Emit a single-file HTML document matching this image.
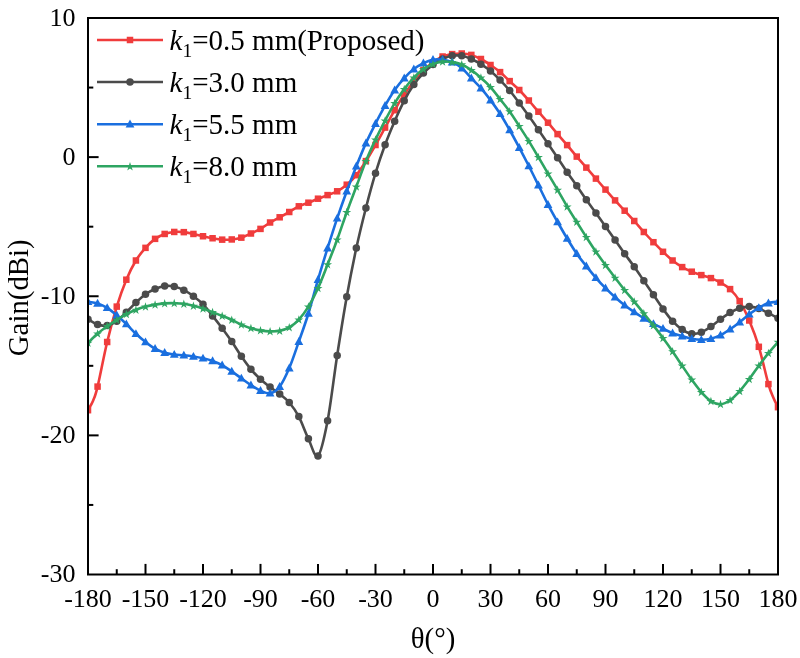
<!DOCTYPE html>
<html><head><meta charset="utf-8"><title>Gain</title>
<style>
html,body{margin:0;padding:0;background:#fff;}
body{width:800px;height:658px;overflow:hidden;}
svg{display:block;will-change:transform;}
text{font-family:"Liberation Serif",serif;fill:#000;}
</style></head><body>
<svg width="800" height="658" viewBox="0 0 800 658">
<rect width="800" height="658" fill="#fff"/>
<defs><clipPath id="c"><rect x="87" y="17" width="692" height="558.5"/></clipPath></defs>
<g clip-path="url(#c)"><path d="M88.00 410.20C88.87 408.57 91.60 404.33 93.20 400.40C94.80 396.47 95.26 396.33 97.58 386.60C99.91 376.87 103.97 355.33 107.17 342.00C110.36 328.67 113.56 316.98 116.75 306.60C119.94 296.22 123.14 287.38 126.33 279.70C129.53 272.02 132.72 265.81 135.92 260.50C139.11 255.19 142.31 251.46 145.50 247.85C148.69 244.24 151.89 241.17 155.08 238.85C158.28 236.53 161.47 235.10 164.67 233.95C167.86 232.80 171.06 232.25 174.25 231.95C177.44 231.65 180.64 231.82 183.83 232.15C187.03 232.48 190.22 233.27 193.42 233.95C196.61 234.63 199.81 235.53 203.00 236.25C206.19 236.97 209.39 237.68 212.58 238.25C215.78 238.82 218.97 239.45 222.17 239.65C225.36 239.85 228.56 239.78 231.75 239.45C234.94 239.12 238.14 238.64 241.33 237.65C244.53 236.66 247.72 234.96 250.92 233.50C254.11 232.04 257.31 230.73 260.50 228.90C263.69 227.07 266.89 224.43 270.08 222.50C273.28 220.57 276.47 219.05 279.67 217.30C282.86 215.55 286.06 213.83 289.25 212.00C292.44 210.17 295.64 207.85 298.83 206.30C302.03 204.75 305.22 203.97 308.42 202.70C311.61 201.43 314.81 199.97 318.00 198.70C321.19 197.43 324.39 196.33 327.58 195.10C330.78 193.87 333.97 193.03 337.17 191.30C340.36 189.57 343.56 187.38 346.75 184.70C349.94 182.02 353.14 179.13 356.33 175.20C359.53 171.27 362.72 166.13 365.92 161.10C369.11 156.07 372.31 150.58 375.50 145.00C378.69 139.42 381.89 133.40 385.08 127.60C388.28 121.80 391.47 115.78 394.67 110.20C397.86 104.62 401.06 98.85 404.25 94.10C407.44 89.35 410.64 85.72 413.83 81.70C417.03 77.68 420.22 73.20 423.42 70.00C426.61 66.80 429.81 64.75 433.00 62.50C436.19 60.25 439.39 57.90 442.58 56.50C445.78 55.10 448.97 54.60 452.17 54.10C455.36 53.60 458.56 53.37 461.75 53.50C464.94 53.63 468.14 53.98 471.33 54.90C474.53 55.82 477.72 57.32 480.92 59.00C484.11 60.68 487.31 62.82 490.50 65.00C493.69 67.18 496.89 69.42 500.08 72.10C503.28 74.78 506.47 78.12 509.67 81.10C512.86 84.08 516.06 86.77 519.25 90.00C522.44 93.23 525.64 96.88 528.83 100.50C532.03 104.12 535.22 108.00 538.42 111.70C541.61 115.40 544.81 118.97 548.00 122.70C551.19 126.43 554.39 130.37 557.58 134.10C560.78 137.83 563.97 141.35 567.17 145.10C570.36 148.85 573.56 152.85 576.75 156.60C579.94 160.35 583.14 163.93 586.33 167.60C589.53 171.27 592.72 174.93 595.92 178.60C599.11 182.27 602.31 185.97 605.50 189.60C608.69 193.23 611.89 196.88 615.08 200.40C618.28 203.92 621.47 207.27 624.67 210.70C627.86 214.13 631.06 217.45 634.25 221.00C637.44 224.55 640.64 228.47 643.83 232.00C647.03 235.53 650.22 238.90 653.42 242.20C656.61 245.50 659.81 248.75 663.00 251.80C666.19 254.85 669.39 257.95 672.58 260.50C675.78 263.05 678.97 265.23 682.17 267.10C685.36 268.97 688.56 270.37 691.75 271.70C694.94 273.03 698.14 274.03 701.33 275.10C704.53 276.17 707.72 276.87 710.92 278.10C714.11 279.33 717.31 280.67 720.50 282.50C723.69 284.33 726.89 286.00 730.08 289.10C733.28 292.20 736.47 295.87 739.67 301.10C742.86 306.33 746.06 312.88 749.25 320.50C752.44 328.12 755.64 336.20 758.83 346.80C762.03 357.40 765.99 375.60 768.42 384.10C770.84 392.60 771.80 393.95 773.40 397.80C775.00 401.65 777.23 405.63 778.00 407.20" fill="none" stroke="#f03c3c" stroke-width="2.6" stroke-linejoin="round" stroke-linecap="round"/>
<g fill="#f03c3c"><rect x="84.75" y="406.95" width="6.50" height="6.50"/><rect x="94.33" y="383.35" width="6.50" height="6.50"/><rect x="103.92" y="338.75" width="6.50" height="6.50"/><rect x="113.50" y="303.35" width="6.50" height="6.50"/><rect x="123.08" y="276.45" width="6.50" height="6.50"/><rect x="132.67" y="257.25" width="6.50" height="6.50"/><rect x="142.25" y="244.60" width="6.50" height="6.50"/><rect x="151.83" y="235.60" width="6.50" height="6.50"/><rect x="161.42" y="230.70" width="6.50" height="6.50"/><rect x="171.00" y="228.70" width="6.50" height="6.50"/><rect x="180.58" y="228.90" width="6.50" height="6.50"/><rect x="190.17" y="230.70" width="6.50" height="6.50"/><rect x="199.75" y="233.00" width="6.50" height="6.50"/><rect x="209.33" y="235.00" width="6.50" height="6.50"/><rect x="218.92" y="236.40" width="6.50" height="6.50"/><rect x="228.50" y="236.20" width="6.50" height="6.50"/><rect x="238.08" y="234.40" width="6.50" height="6.50"/><rect x="247.67" y="230.25" width="6.50" height="6.50"/><rect x="257.25" y="225.65" width="6.50" height="6.50"/><rect x="266.83" y="219.25" width="6.50" height="6.50"/><rect x="276.42" y="214.05" width="6.50" height="6.50"/><rect x="286.00" y="208.75" width="6.50" height="6.50"/><rect x="295.58" y="203.05" width="6.50" height="6.50"/><rect x="305.17" y="199.45" width="6.50" height="6.50"/><rect x="314.75" y="195.45" width="6.50" height="6.50"/><rect x="324.33" y="191.85" width="6.50" height="6.50"/><rect x="333.92" y="188.05" width="6.50" height="6.50"/><rect x="343.50" y="181.45" width="6.50" height="6.50"/><rect x="353.08" y="171.95" width="6.50" height="6.50"/><rect x="362.67" y="157.85" width="6.50" height="6.50"/><rect x="372.25" y="141.75" width="6.50" height="6.50"/><rect x="381.83" y="124.35" width="6.50" height="6.50"/><rect x="391.42" y="106.95" width="6.50" height="6.50"/><rect x="401.00" y="90.85" width="6.50" height="6.50"/><rect x="410.58" y="78.45" width="6.50" height="6.50"/><rect x="420.17" y="66.75" width="6.50" height="6.50"/><rect x="429.75" y="59.25" width="6.50" height="6.50"/><rect x="439.33" y="53.25" width="6.50" height="6.50"/><rect x="448.92" y="50.85" width="6.50" height="6.50"/><rect x="458.50" y="50.25" width="6.50" height="6.50"/><rect x="468.08" y="51.65" width="6.50" height="6.50"/><rect x="477.67" y="55.75" width="6.50" height="6.50"/><rect x="487.25" y="61.75" width="6.50" height="6.50"/><rect x="496.83" y="68.85" width="6.50" height="6.50"/><rect x="506.42" y="77.85" width="6.50" height="6.50"/><rect x="516.00" y="86.75" width="6.50" height="6.50"/><rect x="525.58" y="97.25" width="6.50" height="6.50"/><rect x="535.17" y="108.45" width="6.50" height="6.50"/><rect x="544.75" y="119.45" width="6.50" height="6.50"/><rect x="554.33" y="130.85" width="6.50" height="6.50"/><rect x="563.92" y="141.85" width="6.50" height="6.50"/><rect x="573.50" y="153.35" width="6.50" height="6.50"/><rect x="583.08" y="164.35" width="6.50" height="6.50"/><rect x="592.67" y="175.35" width="6.50" height="6.50"/><rect x="602.25" y="186.35" width="6.50" height="6.50"/><rect x="611.83" y="197.15" width="6.50" height="6.50"/><rect x="621.42" y="207.45" width="6.50" height="6.50"/><rect x="631.00" y="217.75" width="6.50" height="6.50"/><rect x="640.58" y="228.75" width="6.50" height="6.50"/><rect x="650.17" y="238.95" width="6.50" height="6.50"/><rect x="659.75" y="248.55" width="6.50" height="6.50"/><rect x="669.33" y="257.25" width="6.50" height="6.50"/><rect x="678.92" y="263.85" width="6.50" height="6.50"/><rect x="688.50" y="268.45" width="6.50" height="6.50"/><rect x="698.08" y="271.85" width="6.50" height="6.50"/><rect x="707.67" y="274.85" width="6.50" height="6.50"/><rect x="717.25" y="279.25" width="6.50" height="6.50"/><rect x="726.83" y="285.85" width="6.50" height="6.50"/><rect x="736.42" y="297.85" width="6.50" height="6.50"/><rect x="746.00" y="317.25" width="6.50" height="6.50"/><rect x="755.58" y="343.55" width="6.50" height="6.50"/><rect x="765.17" y="380.85" width="6.50" height="6.50"/><rect x="774.75" y="403.95" width="6.50" height="6.50"/></g></g>
<g clip-path="url(#c)"><path d="M88.00 319.20C89.60 320.10 94.39 323.53 97.58 324.60C100.78 325.67 103.97 326.17 107.17 325.60C110.36 325.03 113.56 323.43 116.75 321.20C119.94 318.97 123.14 315.30 126.33 312.20C129.53 309.10 132.72 305.60 135.92 302.60C139.11 299.60 142.31 296.47 145.50 294.20C148.69 291.93 151.89 290.37 155.08 289.00C158.28 287.63 161.47 286.40 164.67 286.00C167.86 285.60 171.06 285.90 174.25 286.60C177.44 287.30 180.64 288.60 183.83 290.20C187.03 291.80 190.22 293.87 193.42 296.20C196.61 298.53 199.81 300.92 203.00 304.20C206.19 307.48 209.39 311.88 212.58 315.90C215.78 319.92 218.97 324.03 222.17 328.30C225.36 332.57 228.56 336.83 231.75 341.50C234.94 346.17 238.14 351.67 241.33 356.30C244.53 360.93 247.72 365.47 250.92 369.30C254.11 373.13 257.31 376.33 260.50 379.30C263.69 382.27 266.89 384.63 270.08 387.10C273.28 389.57 276.47 391.53 279.67 394.10C282.86 396.67 286.06 398.75 289.25 402.50C292.44 406.25 295.64 410.55 298.83 416.60C302.03 422.65 305.22 432.25 308.42 438.80C311.61 445.35 314.81 458.90 318.00 455.90C321.19 452.90 324.39 437.53 327.58 420.80C330.78 404.07 333.97 376.17 337.17 355.50C340.36 334.83 343.56 314.70 346.75 296.80C349.94 278.90 353.14 262.90 356.33 248.10C359.53 233.30 362.72 220.48 365.92 208.00C369.11 195.52 372.31 183.73 375.50 173.20C378.69 162.67 381.89 153.47 385.08 144.80C388.28 136.13 391.47 128.55 394.67 121.20C397.86 113.85 401.06 106.82 404.25 100.70C407.44 94.58 410.64 89.10 413.83 84.50C417.03 79.90 420.22 76.42 423.42 73.10C426.61 69.78 429.81 66.95 433.00 64.60C436.19 62.25 439.39 60.47 442.58 59.00C445.78 57.53 448.97 56.33 452.17 55.80C455.36 55.27 458.56 55.27 461.75 55.80C464.94 56.33 468.14 57.60 471.33 59.00C474.53 60.40 477.72 62.18 480.92 64.20C484.11 66.22 487.31 68.45 490.50 71.10C493.69 73.75 496.89 76.87 500.08 80.10C503.28 83.33 506.47 86.68 509.67 90.50C512.86 94.32 516.06 98.73 519.25 103.00C522.44 107.27 525.64 111.65 528.83 116.10C532.03 120.55 535.22 125.10 538.42 129.70C541.61 134.30 544.81 139.02 548.00 143.70C551.19 148.38 554.39 153.05 557.58 157.80C560.78 162.55 563.97 167.53 567.17 172.20C570.36 176.87 573.56 181.20 576.75 185.80C579.94 190.40 583.14 195.27 586.33 199.80C589.53 204.33 592.72 208.55 595.92 213.00C599.11 217.45 602.31 221.98 605.50 226.50C608.69 231.02 611.89 235.57 615.08 240.10C618.28 244.63 621.47 249.25 624.67 253.70C627.86 258.15 631.06 262.28 634.25 266.80C637.44 271.32 640.64 276.13 643.83 280.80C647.03 285.47 650.22 290.12 653.42 294.80C656.61 299.48 659.81 304.50 663.00 308.90C666.19 313.30 669.39 317.75 672.58 321.20C675.78 324.65 678.97 327.50 682.17 329.60C685.36 331.70 688.56 333.37 691.75 333.80C694.94 334.23 698.14 333.40 701.33 332.20C704.53 331.00 707.72 328.77 710.92 326.60C714.11 324.43 717.31 321.53 720.50 319.20C723.69 316.87 726.89 314.43 730.08 312.60C733.28 310.77 736.47 309.20 739.67 308.20C742.86 307.20 746.06 306.53 749.25 306.60C752.44 306.67 755.64 307.50 758.83 308.60C762.03 309.70 765.22 311.60 768.42 313.20C771.61 314.80 776.40 317.37 778.00 318.20" fill="none" stroke="#4b4b4b" stroke-width="2.6" stroke-linejoin="round" stroke-linecap="round"/>
<g fill="#4b4b4b"><circle cx="88.00" cy="319.20" r="3.75"/><circle cx="97.58" cy="324.60" r="3.75"/><circle cx="107.17" cy="325.60" r="3.75"/><circle cx="116.75" cy="321.20" r="3.75"/><circle cx="126.33" cy="312.20" r="3.75"/><circle cx="135.92" cy="302.60" r="3.75"/><circle cx="145.50" cy="294.20" r="3.75"/><circle cx="155.08" cy="289.00" r="3.75"/><circle cx="164.67" cy="286.00" r="3.75"/><circle cx="174.25" cy="286.60" r="3.75"/><circle cx="183.83" cy="290.20" r="3.75"/><circle cx="193.42" cy="296.20" r="3.75"/><circle cx="203.00" cy="304.20" r="3.75"/><circle cx="212.58" cy="315.90" r="3.75"/><circle cx="222.17" cy="328.30" r="3.75"/><circle cx="231.75" cy="341.50" r="3.75"/><circle cx="241.33" cy="356.30" r="3.75"/><circle cx="250.92" cy="369.30" r="3.75"/><circle cx="260.50" cy="379.30" r="3.75"/><circle cx="270.08" cy="387.10" r="3.75"/><circle cx="279.67" cy="394.10" r="3.75"/><circle cx="289.25" cy="402.50" r="3.75"/><circle cx="298.83" cy="416.60" r="3.75"/><circle cx="308.42" cy="438.80" r="3.75"/><circle cx="318.00" cy="455.90" r="3.75"/><circle cx="327.58" cy="420.80" r="3.75"/><circle cx="337.17" cy="355.50" r="3.75"/><circle cx="346.75" cy="296.80" r="3.75"/><circle cx="356.33" cy="248.10" r="3.75"/><circle cx="365.92" cy="208.00" r="3.75"/><circle cx="375.50" cy="173.20" r="3.75"/><circle cx="385.08" cy="144.80" r="3.75"/><circle cx="394.67" cy="121.20" r="3.75"/><circle cx="404.25" cy="100.70" r="3.75"/><circle cx="413.83" cy="84.50" r="3.75"/><circle cx="423.42" cy="73.10" r="3.75"/><circle cx="433.00" cy="64.60" r="3.75"/><circle cx="442.58" cy="59.00" r="3.75"/><circle cx="452.17" cy="55.80" r="3.75"/><circle cx="461.75" cy="55.80" r="3.75"/><circle cx="471.33" cy="59.00" r="3.75"/><circle cx="480.92" cy="64.20" r="3.75"/><circle cx="490.50" cy="71.10" r="3.75"/><circle cx="500.08" cy="80.10" r="3.75"/><circle cx="509.67" cy="90.50" r="3.75"/><circle cx="519.25" cy="103.00" r="3.75"/><circle cx="528.83" cy="116.10" r="3.75"/><circle cx="538.42" cy="129.70" r="3.75"/><circle cx="548.00" cy="143.70" r="3.75"/><circle cx="557.58" cy="157.80" r="3.75"/><circle cx="567.17" cy="172.20" r="3.75"/><circle cx="576.75" cy="185.80" r="3.75"/><circle cx="586.33" cy="199.80" r="3.75"/><circle cx="595.92" cy="213.00" r="3.75"/><circle cx="605.50" cy="226.50" r="3.75"/><circle cx="615.08" cy="240.10" r="3.75"/><circle cx="624.67" cy="253.70" r="3.75"/><circle cx="634.25" cy="266.80" r="3.75"/><circle cx="643.83" cy="280.80" r="3.75"/><circle cx="653.42" cy="294.80" r="3.75"/><circle cx="663.00" cy="308.90" r="3.75"/><circle cx="672.58" cy="321.20" r="3.75"/><circle cx="682.17" cy="329.60" r="3.75"/><circle cx="691.75" cy="333.80" r="3.75"/><circle cx="701.33" cy="332.20" r="3.75"/><circle cx="710.92" cy="326.60" r="3.75"/><circle cx="720.50" cy="319.20" r="3.75"/><circle cx="730.08" cy="312.60" r="3.75"/><circle cx="739.67" cy="308.20" r="3.75"/><circle cx="749.25" cy="306.60" r="3.75"/><circle cx="758.83" cy="308.60" r="3.75"/><circle cx="768.42" cy="313.20" r="3.75"/><circle cx="778.00" cy="318.20" r="3.75"/></g></g>
<g clip-path="url(#c)"><path d="M88.00 301.80C89.60 302.07 94.39 302.40 97.58 303.40C100.78 304.40 103.97 305.83 107.17 307.80C110.36 309.77 113.56 312.50 116.75 315.20C119.94 317.90 123.14 320.90 126.33 324.00C129.53 327.10 132.72 330.80 135.92 333.80C139.11 336.80 142.31 339.52 145.50 342.00C148.69 344.48 151.89 346.92 155.08 348.70C158.28 350.48 161.47 351.73 164.67 352.70C167.86 353.67 171.06 354.07 174.25 354.50C177.44 354.93 180.64 354.97 183.83 355.30C187.03 355.63 190.22 356.00 193.42 356.50C196.61 357.00 199.81 357.57 203.00 358.30C206.19 359.03 209.39 359.77 212.58 360.90C215.78 362.03 218.97 363.35 222.17 365.10C225.36 366.85 228.56 369.20 231.75 371.40C234.94 373.60 238.14 376.02 241.33 378.30C244.53 380.58 247.72 383.03 250.92 385.10C254.11 387.17 257.31 389.33 260.50 390.70C263.69 392.07 266.89 393.97 270.08 393.30C273.28 392.63 276.47 390.90 279.67 386.70C282.86 382.50 286.06 375.62 289.25 368.10C292.44 360.58 295.64 350.70 298.83 341.60C302.03 332.50 305.22 323.82 308.42 313.50C311.61 303.18 314.81 290.60 318.00 279.70C321.19 268.80 324.39 258.33 327.58 248.10C330.78 237.87 333.97 227.78 337.17 218.30C340.36 208.82 343.56 199.88 346.75 191.20C349.94 182.52 353.14 174.22 356.33 166.20C359.53 158.18 362.72 150.20 365.92 143.10C369.11 136.00 372.31 129.83 375.50 123.60C378.69 117.37 381.89 111.28 385.08 105.70C388.28 100.12 391.47 94.70 394.67 90.10C397.86 85.50 401.06 81.60 404.25 78.10C407.44 74.60 410.64 71.60 413.83 69.10C417.03 66.60 420.22 64.67 423.42 63.10C426.61 61.53 429.81 60.27 433.00 59.70C436.19 59.13 439.39 59.30 442.58 59.70C445.78 60.10 448.97 60.70 452.17 62.10C455.36 63.50 458.56 65.43 461.75 68.10C464.94 70.77 468.14 74.77 471.33 78.10C474.53 81.43 477.72 84.43 480.92 88.10C484.11 91.77 487.31 95.82 490.50 100.10C493.69 104.38 496.89 108.82 500.08 113.80C503.28 118.78 506.47 124.37 509.67 130.00C512.86 135.63 516.06 141.60 519.25 147.60C522.44 153.60 525.64 159.73 528.83 166.00C532.03 172.27 535.22 178.77 538.42 185.20C541.61 191.63 544.81 198.47 548.00 204.60C551.19 210.73 554.39 216.35 557.58 222.00C560.78 227.65 563.97 233.22 567.17 238.50C570.36 243.78 573.56 249.10 576.75 253.70C579.94 258.30 583.14 262.08 586.33 266.10C589.53 270.12 592.72 274.12 595.92 277.80C599.11 281.48 602.31 284.97 605.50 288.20C608.69 291.43 611.89 294.37 615.08 297.20C618.28 300.03 621.47 302.73 624.67 305.20C627.86 307.67 631.06 309.80 634.25 312.00C637.44 314.20 640.64 316.43 643.83 318.40C647.03 320.37 650.22 322.12 653.42 323.80C656.61 325.48 659.81 326.93 663.00 328.50C666.19 330.07 669.39 331.92 672.58 333.20C675.78 334.48 678.97 335.27 682.17 336.20C685.36 337.13 688.56 338.20 691.75 338.80C694.94 339.40 698.14 339.80 701.33 339.80C704.53 339.80 707.72 339.57 710.92 338.80C714.11 338.03 717.31 336.80 720.50 335.20C723.69 333.60 726.89 331.37 730.08 329.20C733.28 327.03 736.47 324.70 739.67 322.20C742.86 319.70 746.06 316.60 749.25 314.20C752.44 311.80 755.64 309.65 758.83 307.80C762.03 305.95 765.22 304.12 768.42 303.10C771.61 302.08 776.40 301.93 778.00 301.70" fill="none" stroke="#1a6fdf" stroke-width="2.6" stroke-linejoin="round" stroke-linecap="round"/>
<g fill="#1a6fdf"><path d="M88.00 297.20 L92.40 305.10 L83.60 305.10 Z"/><path d="M97.58 298.80 L101.98 306.70 L93.18 306.70 Z"/><path d="M107.17 303.20 L111.57 311.10 L102.77 311.10 Z"/><path d="M116.75 310.60 L121.15 318.50 L112.35 318.50 Z"/><path d="M126.33 319.40 L130.73 327.30 L121.93 327.30 Z"/><path d="M135.92 329.20 L140.32 337.10 L131.52 337.10 Z"/><path d="M145.50 337.40 L149.90 345.30 L141.10 345.30 Z"/><path d="M155.08 344.10 L159.48 352.00 L150.68 352.00 Z"/><path d="M164.67 348.10 L169.07 356.00 L160.27 356.00 Z"/><path d="M174.25 349.90 L178.65 357.80 L169.85 357.80 Z"/><path d="M183.83 350.70 L188.23 358.60 L179.43 358.60 Z"/><path d="M193.42 351.90 L197.82 359.80 L189.02 359.80 Z"/><path d="M203.00 353.70 L207.40 361.60 L198.60 361.60 Z"/><path d="M212.58 356.30 L216.98 364.20 L208.18 364.20 Z"/><path d="M222.17 360.50 L226.57 368.40 L217.77 368.40 Z"/><path d="M231.75 366.80 L236.15 374.70 L227.35 374.70 Z"/><path d="M241.33 373.70 L245.73 381.60 L236.93 381.60 Z"/><path d="M250.92 380.50 L255.32 388.40 L246.52 388.40 Z"/><path d="M260.50 386.10 L264.90 394.00 L256.10 394.00 Z"/><path d="M270.08 388.70 L274.48 396.60 L265.68 396.60 Z"/><path d="M279.67 382.10 L284.07 390.00 L275.27 390.00 Z"/><path d="M289.25 363.50 L293.65 371.40 L284.85 371.40 Z"/><path d="M298.83 337.00 L303.23 344.90 L294.43 344.90 Z"/><path d="M308.42 308.90 L312.82 316.80 L304.02 316.80 Z"/><path d="M318.00 275.10 L322.40 283.00 L313.60 283.00 Z"/><path d="M327.58 243.50 L331.98 251.40 L323.18 251.40 Z"/><path d="M337.17 213.70 L341.57 221.60 L332.77 221.60 Z"/><path d="M346.75 186.60 L351.15 194.50 L342.35 194.50 Z"/><path d="M356.33 161.60 L360.73 169.50 L351.93 169.50 Z"/><path d="M365.92 138.50 L370.32 146.40 L361.52 146.40 Z"/><path d="M375.50 119.00 L379.90 126.90 L371.10 126.90 Z"/><path d="M385.08 101.10 L389.48 109.00 L380.68 109.00 Z"/><path d="M394.67 85.50 L399.07 93.40 L390.27 93.40 Z"/><path d="M404.25 73.50 L408.65 81.40 L399.85 81.40 Z"/><path d="M413.83 64.50 L418.23 72.40 L409.43 72.40 Z"/><path d="M423.42 58.50 L427.82 66.40 L419.02 66.40 Z"/><path d="M433.00 55.10 L437.40 63.00 L428.60 63.00 Z"/><path d="M442.58 55.10 L446.98 63.00 L438.18 63.00 Z"/><path d="M452.17 57.50 L456.57 65.40 L447.77 65.40 Z"/><path d="M461.75 63.50 L466.15 71.40 L457.35 71.40 Z"/><path d="M471.33 73.50 L475.73 81.40 L466.93 81.40 Z"/><path d="M480.92 83.50 L485.32 91.40 L476.52 91.40 Z"/><path d="M490.50 95.50 L494.90 103.40 L486.10 103.40 Z"/><path d="M500.08 109.20 L504.48 117.10 L495.68 117.10 Z"/><path d="M509.67 125.40 L514.07 133.30 L505.27 133.30 Z"/><path d="M519.25 143.00 L523.65 150.90 L514.85 150.90 Z"/><path d="M528.83 161.40 L533.23 169.30 L524.43 169.30 Z"/><path d="M538.42 180.60 L542.82 188.50 L534.02 188.50 Z"/><path d="M548.00 200.00 L552.40 207.90 L543.60 207.90 Z"/><path d="M557.58 217.40 L561.98 225.30 L553.18 225.30 Z"/><path d="M567.17 233.90 L571.57 241.80 L562.77 241.80 Z"/><path d="M576.75 249.10 L581.15 257.00 L572.35 257.00 Z"/><path d="M586.33 261.50 L590.73 269.40 L581.93 269.40 Z"/><path d="M595.92 273.20 L600.32 281.10 L591.52 281.10 Z"/><path d="M605.50 283.60 L609.90 291.50 L601.10 291.50 Z"/><path d="M615.08 292.60 L619.48 300.50 L610.68 300.50 Z"/><path d="M624.67 300.60 L629.07 308.50 L620.27 308.50 Z"/><path d="M634.25 307.40 L638.65 315.30 L629.85 315.30 Z"/><path d="M643.83 313.80 L648.23 321.70 L639.43 321.70 Z"/><path d="M653.42 319.20 L657.82 327.10 L649.02 327.10 Z"/><path d="M663.00 323.90 L667.40 331.80 L658.60 331.80 Z"/><path d="M672.58 328.60 L676.98 336.50 L668.18 336.50 Z"/><path d="M682.17 331.60 L686.57 339.50 L677.77 339.50 Z"/><path d="M691.75 334.20 L696.15 342.10 L687.35 342.10 Z"/><path d="M701.33 335.20 L705.73 343.10 L696.93 343.10 Z"/><path d="M710.92 334.20 L715.32 342.10 L706.52 342.10 Z"/><path d="M720.50 330.60 L724.90 338.50 L716.10 338.50 Z"/><path d="M730.08 324.60 L734.48 332.50 L725.68 332.50 Z"/><path d="M739.67 317.60 L744.07 325.50 L735.27 325.50 Z"/><path d="M749.25 309.60 L753.65 317.50 L744.85 317.50 Z"/><path d="M758.83 303.20 L763.23 311.10 L754.43 311.10 Z"/><path d="M768.42 298.50 L772.82 306.40 L764.02 306.40 Z"/><path d="M778.00 297.10 L782.40 305.00 L773.60 305.00 Z"/></g></g>
<g clip-path="url(#c)"><path d="M88.00 343.00C89.60 341.43 94.39 336.40 97.58 333.60C100.78 330.80 103.97 328.50 107.17 326.20C110.36 323.90 113.56 321.80 116.75 319.80C119.94 317.80 123.14 315.87 126.33 314.20C129.53 312.53 132.72 311.07 135.92 309.80C139.11 308.53 142.31 307.47 145.50 306.60C148.69 305.73 151.89 305.13 155.08 304.60C158.28 304.07 161.47 303.63 164.67 303.40C167.86 303.17 171.06 303.13 174.25 303.20C177.44 303.27 180.64 303.37 183.83 303.80C187.03 304.23 190.22 305.00 193.42 305.80C196.61 306.60 199.81 307.53 203.00 308.60C206.19 309.67 209.39 311.00 212.58 312.20C215.78 313.40 218.97 314.53 222.17 315.80C225.36 317.07 228.56 318.33 231.75 319.80C234.94 321.27 238.14 323.20 241.33 324.60C244.53 326.00 247.72 327.23 250.92 328.20C254.11 329.17 257.31 329.87 260.50 330.40C263.69 330.93 266.89 331.33 270.08 331.40C273.28 331.47 276.47 331.47 279.67 330.80C282.86 330.13 286.06 329.27 289.25 327.40C292.44 325.53 295.64 323.07 298.83 319.60C302.03 316.13 305.22 311.83 308.42 306.60C311.61 301.37 314.81 295.22 318.00 288.20C321.19 281.18 324.39 272.58 327.58 264.50C330.78 256.42 333.97 248.42 337.17 239.70C340.36 230.98 343.56 221.05 346.75 212.20C349.94 203.35 353.14 195.12 356.33 186.60C359.53 178.08 362.72 168.93 365.92 161.10C369.11 153.27 372.31 146.35 375.50 139.60C378.69 132.85 381.89 126.68 385.08 120.60C388.28 114.52 391.47 108.35 394.67 103.10C397.86 97.85 401.06 93.33 404.25 89.10C407.44 84.87 410.64 81.03 413.83 77.70C417.03 74.37 420.22 71.37 423.42 69.10C426.61 66.83 429.81 65.33 433.00 64.10C436.19 62.87 439.39 62.03 442.58 61.70C445.78 61.37 448.97 61.63 452.17 62.10C455.36 62.57 458.56 63.17 461.75 64.50C464.94 65.83 468.14 67.90 471.33 70.10C474.53 72.30 477.72 74.87 480.92 77.70C484.11 80.53 487.31 83.53 490.50 87.10C493.69 90.67 496.89 95.03 500.08 99.10C503.28 103.17 506.47 107.00 509.67 111.50C512.86 116.00 516.06 121.17 519.25 126.10C522.44 131.03 525.64 135.92 528.83 141.10C532.03 146.28 535.22 151.78 538.42 157.20C541.61 162.62 544.81 168.17 548.00 173.60C551.19 179.03 554.39 184.30 557.58 189.80C560.78 195.30 563.97 201.23 567.17 206.60C570.36 211.97 573.56 216.92 576.75 222.00C579.94 227.08 583.14 232.15 586.33 237.10C589.53 242.05 592.72 247.03 595.92 251.70C599.11 256.37 602.31 260.75 605.50 265.10C608.69 269.45 611.89 273.62 615.08 277.80C618.28 281.98 621.47 286.23 624.67 290.20C627.86 294.17 631.06 297.73 634.25 301.60C637.44 305.47 640.64 309.43 643.83 313.40C647.03 317.37 650.22 321.28 653.42 325.40C656.61 329.52 659.81 333.75 663.00 338.10C666.19 342.45 669.39 346.90 672.58 351.50C675.78 356.10 678.97 361.00 682.17 365.70C685.36 370.40 688.56 375.30 691.75 379.70C694.94 384.10 698.14 388.52 701.33 392.10C704.53 395.68 707.72 399.18 710.92 401.20C714.11 403.22 717.31 404.37 720.50 404.20C723.69 404.03 726.89 402.38 730.08 400.20C733.28 398.02 736.47 394.62 739.67 391.10C742.86 387.58 746.06 383.33 749.25 379.10C752.44 374.87 755.64 370.03 758.83 365.70C762.03 361.37 765.22 357.05 768.42 353.10C771.61 349.15 776.40 343.85 778.00 342.00" fill="none" stroke="#2ea562" stroke-width="2.6" stroke-linejoin="round" stroke-linecap="round"/>
<g fill="#2ea562"><path d="M88.00 338.60 L89.06 341.84 L92.47 341.85 L89.71 343.86 L90.76 347.10 L88.00 345.10 L85.24 347.10 L86.29 343.86 L83.53 341.85 L86.94 341.84 Z"/><path d="M97.58 329.20 L98.64 332.44 L102.05 332.45 L99.30 334.46 L100.35 337.70 L97.58 335.70 L94.82 337.70 L95.87 334.46 L93.11 332.45 L96.53 332.44 Z"/><path d="M107.17 321.80 L108.22 325.04 L111.64 325.05 L108.88 327.06 L109.93 330.30 L107.17 328.30 L104.40 330.30 L105.45 327.06 L102.70 325.05 L106.11 325.04 Z"/><path d="M116.75 315.40 L117.81 318.64 L121.22 318.65 L118.46 320.66 L119.51 323.90 L116.75 321.90 L113.99 323.90 L115.04 320.66 L112.28 318.65 L115.69 318.64 Z"/><path d="M126.33 309.80 L127.39 313.04 L130.80 313.05 L128.05 315.06 L129.10 318.30 L126.33 316.30 L123.57 318.30 L124.62 315.06 L121.86 313.05 L125.28 313.04 Z"/><path d="M135.92 305.40 L136.97 308.64 L140.39 308.65 L137.63 310.66 L138.68 313.90 L135.92 311.90 L133.15 313.90 L134.20 310.66 L131.45 308.65 L134.86 308.64 Z"/><path d="M145.50 302.20 L146.56 305.44 L149.97 305.45 L147.21 307.46 L148.26 310.70 L145.50 308.70 L142.74 310.70 L143.79 307.46 L141.03 305.45 L144.44 305.44 Z"/><path d="M155.08 300.20 L156.14 303.44 L159.55 303.45 L156.80 305.46 L157.85 308.70 L155.08 306.70 L152.32 308.70 L153.37 305.46 L150.61 303.45 L154.03 303.44 Z"/><path d="M164.67 299.00 L165.72 302.24 L169.14 302.25 L166.38 304.26 L167.43 307.50 L164.67 305.50 L161.90 307.50 L162.95 304.26 L160.20 302.25 L163.61 302.24 Z"/><path d="M174.25 298.80 L175.31 302.04 L178.72 302.05 L175.96 304.06 L177.01 307.30 L174.25 305.30 L171.49 307.30 L172.54 304.06 L169.78 302.05 L173.19 302.04 Z"/><path d="M183.83 299.40 L184.89 302.64 L188.30 302.65 L185.55 304.66 L186.60 307.90 L183.83 305.90 L181.07 307.90 L182.12 304.66 L179.36 302.65 L182.78 302.64 Z"/><path d="M193.42 301.40 L194.47 304.64 L197.89 304.65 L195.13 306.66 L196.18 309.90 L193.42 307.90 L190.65 309.90 L191.70 306.66 L188.95 304.65 L192.36 304.64 Z"/><path d="M203.00 304.20 L204.06 307.44 L207.47 307.45 L204.71 309.46 L205.76 312.70 L203.00 310.70 L200.24 312.70 L201.29 309.46 L198.53 307.45 L201.94 307.44 Z"/><path d="M212.58 307.80 L213.64 311.04 L217.05 311.05 L214.30 313.06 L215.35 316.30 L212.58 314.30 L209.82 316.30 L210.87 313.06 L208.11 311.05 L211.53 311.04 Z"/><path d="M222.17 311.40 L223.22 314.64 L226.64 314.65 L223.88 316.66 L224.93 319.90 L222.17 317.90 L219.40 319.90 L220.45 316.66 L217.70 314.65 L221.11 314.64 Z"/><path d="M231.75 315.40 L232.81 318.64 L236.22 318.65 L233.46 320.66 L234.51 323.90 L231.75 321.90 L228.99 323.90 L230.04 320.66 L227.28 318.65 L230.69 318.64 Z"/><path d="M241.33 320.20 L242.39 323.44 L245.80 323.45 L243.05 325.46 L244.10 328.70 L241.33 326.70 L238.57 328.70 L239.62 325.46 L236.86 323.45 L240.28 323.44 Z"/><path d="M250.92 323.80 L251.97 327.04 L255.39 327.05 L252.63 329.06 L253.68 332.30 L250.92 330.30 L248.15 332.30 L249.20 329.06 L246.45 327.05 L249.86 327.04 Z"/><path d="M260.50 326.00 L261.56 329.24 L264.97 329.25 L262.21 331.26 L263.26 334.50 L260.50 332.50 L257.74 334.50 L258.79 331.26 L256.03 329.25 L259.44 329.24 Z"/><path d="M270.08 327.00 L271.14 330.24 L274.55 330.25 L271.80 332.26 L272.85 335.50 L270.08 333.50 L267.32 335.50 L268.37 332.26 L265.61 330.25 L269.03 330.24 Z"/><path d="M279.67 326.40 L280.72 329.64 L284.14 329.65 L281.38 331.66 L282.43 334.90 L279.67 332.90 L276.90 334.90 L277.95 331.66 L275.20 329.65 L278.61 329.64 Z"/><path d="M289.25 323.00 L290.31 326.24 L293.72 326.25 L290.96 328.26 L292.01 331.50 L289.25 329.50 L286.49 331.50 L287.54 328.26 L284.78 326.25 L288.19 326.24 Z"/><path d="M298.83 315.20 L299.89 318.44 L303.30 318.45 L300.55 320.46 L301.60 323.70 L298.83 321.70 L296.07 323.70 L297.12 320.46 L294.36 318.45 L297.78 318.44 Z"/><path d="M308.42 302.20 L309.47 305.44 L312.89 305.45 L310.13 307.46 L311.18 310.70 L308.42 308.70 L305.65 310.70 L306.70 307.46 L303.95 305.45 L307.36 305.44 Z"/><path d="M318.00 283.80 L319.06 287.04 L322.47 287.05 L319.71 289.06 L320.76 292.30 L318.00 290.30 L315.24 292.30 L316.29 289.06 L313.53 287.05 L316.94 287.04 Z"/><path d="M327.58 260.10 L328.64 263.34 L332.05 263.35 L329.30 265.36 L330.35 268.60 L327.58 266.60 L324.82 268.60 L325.87 265.36 L323.11 263.35 L326.53 263.34 Z"/><path d="M337.17 235.30 L338.22 238.54 L341.64 238.55 L338.88 240.56 L339.93 243.80 L337.17 241.80 L334.40 243.80 L335.45 240.56 L332.70 238.55 L336.11 238.54 Z"/><path d="M346.75 207.80 L347.81 211.04 L351.22 211.05 L348.46 213.06 L349.51 216.30 L346.75 214.30 L343.99 216.30 L345.04 213.06 L342.28 211.05 L345.69 211.04 Z"/><path d="M356.33 182.20 L357.39 185.44 L360.80 185.45 L358.05 187.46 L359.10 190.70 L356.33 188.70 L353.57 190.70 L354.62 187.46 L351.86 185.45 L355.28 185.44 Z"/><path d="M365.92 156.70 L366.97 159.94 L370.39 159.95 L367.63 161.96 L368.68 165.20 L365.92 163.20 L363.15 165.20 L364.20 161.96 L361.45 159.95 L364.86 159.94 Z"/><path d="M375.50 135.20 L376.56 138.44 L379.97 138.45 L377.21 140.46 L378.26 143.70 L375.50 141.70 L372.74 143.70 L373.79 140.46 L371.03 138.45 L374.44 138.44 Z"/><path d="M385.08 116.20 L386.14 119.44 L389.55 119.45 L386.80 121.46 L387.85 124.70 L385.08 122.70 L382.32 124.70 L383.37 121.46 L380.61 119.45 L384.03 119.44 Z"/><path d="M394.67 98.70 L395.72 101.94 L399.14 101.95 L396.38 103.96 L397.43 107.20 L394.67 105.20 L391.90 107.20 L392.95 103.96 L390.20 101.95 L393.61 101.94 Z"/><path d="M404.25 84.70 L405.31 87.94 L408.72 87.95 L405.96 89.96 L407.01 93.20 L404.25 91.20 L401.49 93.20 L402.54 89.96 L399.78 87.95 L403.19 87.94 Z"/><path d="M413.83 73.30 L414.89 76.54 L418.30 76.55 L415.55 78.56 L416.60 81.80 L413.83 79.80 L411.07 81.80 L412.12 78.56 L409.36 76.55 L412.78 76.54 Z"/><path d="M423.42 64.70 L424.47 67.94 L427.89 67.95 L425.13 69.96 L426.18 73.20 L423.42 71.20 L420.65 73.20 L421.70 69.96 L418.95 67.95 L422.36 67.94 Z"/><path d="M433.00 59.70 L434.06 62.94 L437.47 62.95 L434.71 64.96 L435.76 68.20 L433.00 66.20 L430.24 68.20 L431.29 64.96 L428.53 62.95 L431.94 62.94 Z"/><path d="M442.58 57.30 L443.64 60.54 L447.05 60.55 L444.30 62.56 L445.35 65.80 L442.58 63.80 L439.82 65.80 L440.87 62.56 L438.11 60.55 L441.53 60.54 Z"/><path d="M452.17 57.70 L453.22 60.94 L456.64 60.95 L453.88 62.96 L454.93 66.20 L452.17 64.20 L449.40 66.20 L450.45 62.96 L447.70 60.95 L451.11 60.94 Z"/><path d="M461.75 60.10 L462.81 63.34 L466.22 63.35 L463.46 65.36 L464.51 68.60 L461.75 66.60 L458.99 68.60 L460.04 65.36 L457.28 63.35 L460.69 63.34 Z"/><path d="M471.33 65.70 L472.39 68.94 L475.80 68.95 L473.05 70.96 L474.10 74.20 L471.33 72.20 L468.57 74.20 L469.62 70.96 L466.86 68.95 L470.28 68.94 Z"/><path d="M480.92 73.30 L481.97 76.54 L485.39 76.55 L482.63 78.56 L483.68 81.80 L480.92 79.80 L478.15 81.80 L479.20 78.56 L476.45 76.55 L479.86 76.54 Z"/><path d="M490.50 82.70 L491.56 85.94 L494.97 85.95 L492.21 87.96 L493.26 91.20 L490.50 89.20 L487.74 91.20 L488.79 87.96 L486.03 85.95 L489.44 85.94 Z"/><path d="M500.08 94.70 L501.14 97.94 L504.55 97.95 L501.80 99.96 L502.85 103.20 L500.08 101.20 L497.32 103.20 L498.37 99.96 L495.61 97.95 L499.03 97.94 Z"/><path d="M509.67 107.10 L510.72 110.34 L514.14 110.35 L511.38 112.36 L512.43 115.60 L509.67 113.60 L506.90 115.60 L507.95 112.36 L505.20 110.35 L508.61 110.34 Z"/><path d="M519.25 121.70 L520.31 124.94 L523.72 124.95 L520.96 126.96 L522.01 130.20 L519.25 128.20 L516.49 130.20 L517.54 126.96 L514.78 124.95 L518.19 124.94 Z"/><path d="M528.83 136.70 L529.89 139.94 L533.30 139.95 L530.55 141.96 L531.60 145.20 L528.83 143.20 L526.07 145.20 L527.12 141.96 L524.36 139.95 L527.78 139.94 Z"/><path d="M538.42 152.80 L539.47 156.04 L542.89 156.05 L540.13 158.06 L541.18 161.30 L538.42 159.30 L535.65 161.30 L536.70 158.06 L533.95 156.05 L537.36 156.04 Z"/><path d="M548.00 169.20 L549.06 172.44 L552.47 172.45 L549.71 174.46 L550.76 177.70 L548.00 175.70 L545.24 177.70 L546.29 174.46 L543.53 172.45 L546.94 172.44 Z"/><path d="M557.58 185.40 L558.64 188.64 L562.05 188.65 L559.30 190.66 L560.35 193.90 L557.58 191.90 L554.82 193.90 L555.87 190.66 L553.11 188.65 L556.53 188.64 Z"/><path d="M567.17 202.20 L568.22 205.44 L571.64 205.45 L568.88 207.46 L569.93 210.70 L567.17 208.70 L564.40 210.70 L565.45 207.46 L562.70 205.45 L566.11 205.44 Z"/><path d="M576.75 217.60 L577.81 220.84 L581.22 220.85 L578.46 222.86 L579.51 226.10 L576.75 224.10 L573.99 226.10 L575.04 222.86 L572.28 220.85 L575.69 220.84 Z"/><path d="M586.33 232.70 L587.39 235.94 L590.80 235.95 L588.05 237.96 L589.10 241.20 L586.33 239.20 L583.57 241.20 L584.62 237.96 L581.86 235.95 L585.28 235.94 Z"/><path d="M595.92 247.30 L596.97 250.54 L600.39 250.55 L597.63 252.56 L598.68 255.80 L595.92 253.80 L593.15 255.80 L594.20 252.56 L591.45 250.55 L594.86 250.54 Z"/><path d="M605.50 260.70 L606.56 263.94 L609.97 263.95 L607.21 265.96 L608.26 269.20 L605.50 267.20 L602.74 269.20 L603.79 265.96 L601.03 263.95 L604.44 263.94 Z"/><path d="M615.08 273.40 L616.14 276.64 L619.55 276.65 L616.80 278.66 L617.85 281.90 L615.08 279.90 L612.32 281.90 L613.37 278.66 L610.61 276.65 L614.03 276.64 Z"/><path d="M624.67 285.80 L625.72 289.04 L629.14 289.05 L626.38 291.06 L627.43 294.30 L624.67 292.30 L621.90 294.30 L622.95 291.06 L620.20 289.05 L623.61 289.04 Z"/><path d="M634.25 297.20 L635.31 300.44 L638.72 300.45 L635.96 302.46 L637.01 305.70 L634.25 303.70 L631.49 305.70 L632.54 302.46 L629.78 300.45 L633.19 300.44 Z"/><path d="M643.83 309.00 L644.89 312.24 L648.30 312.25 L645.55 314.26 L646.60 317.50 L643.83 315.50 L641.07 317.50 L642.12 314.26 L639.36 312.25 L642.78 312.24 Z"/><path d="M653.42 321.00 L654.47 324.24 L657.89 324.25 L655.13 326.26 L656.18 329.50 L653.42 327.50 L650.65 329.50 L651.70 326.26 L648.95 324.25 L652.36 324.24 Z"/><path d="M663.00 333.70 L664.06 336.94 L667.47 336.95 L664.71 338.96 L665.76 342.20 L663.00 340.20 L660.24 342.20 L661.29 338.96 L658.53 336.95 L661.94 336.94 Z"/><path d="M672.58 347.10 L673.64 350.34 L677.05 350.35 L674.30 352.36 L675.35 355.60 L672.58 353.60 L669.82 355.60 L670.87 352.36 L668.11 350.35 L671.53 350.34 Z"/><path d="M682.17 361.30 L683.22 364.54 L686.64 364.55 L683.88 366.56 L684.93 369.80 L682.17 367.80 L679.40 369.80 L680.45 366.56 L677.70 364.55 L681.11 364.54 Z"/><path d="M691.75 375.30 L692.81 378.54 L696.22 378.55 L693.46 380.56 L694.51 383.80 L691.75 381.80 L688.99 383.80 L690.04 380.56 L687.28 378.55 L690.69 378.54 Z"/><path d="M701.33 387.70 L702.39 390.94 L705.80 390.95 L703.05 392.96 L704.10 396.20 L701.33 394.20 L698.57 396.20 L699.62 392.96 L696.86 390.95 L700.28 390.94 Z"/><path d="M710.92 396.80 L711.97 400.04 L715.39 400.05 L712.63 402.06 L713.68 405.30 L710.92 403.30 L708.15 405.30 L709.20 402.06 L706.45 400.05 L709.86 400.04 Z"/><path d="M720.50 399.80 L721.56 403.04 L724.97 403.05 L722.21 405.06 L723.26 408.30 L720.50 406.30 L717.74 408.30 L718.79 405.06 L716.03 403.05 L719.44 403.04 Z"/><path d="M730.08 395.80 L731.14 399.04 L734.55 399.05 L731.80 401.06 L732.85 404.30 L730.08 402.30 L727.32 404.30 L728.37 401.06 L725.61 399.05 L729.03 399.04 Z"/><path d="M739.67 386.70 L740.72 389.94 L744.14 389.95 L741.38 391.96 L742.43 395.20 L739.67 393.20 L736.90 395.20 L737.95 391.96 L735.20 389.95 L738.61 389.94 Z"/><path d="M749.25 374.70 L750.31 377.94 L753.72 377.95 L750.96 379.96 L752.01 383.20 L749.25 381.20 L746.49 383.20 L747.54 379.96 L744.78 377.95 L748.19 377.94 Z"/><path d="M758.83 361.30 L759.89 364.54 L763.30 364.55 L760.55 366.56 L761.60 369.80 L758.83 367.80 L756.07 369.80 L757.12 366.56 L754.36 364.55 L757.78 364.54 Z"/><path d="M768.42 348.70 L769.47 351.94 L772.89 351.95 L770.13 353.96 L771.18 357.20 L768.42 355.20 L765.65 357.20 L766.70 353.96 L763.95 351.95 L767.36 351.94 Z"/><path d="M778.00 337.60 L779.06 340.84 L782.47 340.85 L779.71 342.86 L780.76 346.10 L778.00 344.10 L775.24 346.10 L776.29 342.86 L773.53 340.85 L776.94 340.84 Z"/></g></g>
<g stroke="#000" stroke-width="2" fill="none">
<rect x="88" y="18" width="690" height="556.5"/>
<line x1="116.75" y1="574.50" x2="116.75" y2="569.20"/><line x1="145.50" y1="574.50" x2="145.50" y2="563.90"/><line x1="174.25" y1="574.50" x2="174.25" y2="569.20"/><line x1="203.00" y1="574.50" x2="203.00" y2="563.90"/><line x1="231.75" y1="574.50" x2="231.75" y2="569.20"/><line x1="260.50" y1="574.50" x2="260.50" y2="563.90"/><line x1="289.25" y1="574.50" x2="289.25" y2="569.20"/><line x1="318.00" y1="574.50" x2="318.00" y2="563.90"/><line x1="346.75" y1="574.50" x2="346.75" y2="569.20"/><line x1="375.50" y1="574.50" x2="375.50" y2="563.90"/><line x1="404.25" y1="574.50" x2="404.25" y2="569.20"/><line x1="433.00" y1="574.50" x2="433.00" y2="563.90"/><line x1="461.75" y1="574.50" x2="461.75" y2="569.20"/><line x1="490.50" y1="574.50" x2="490.50" y2="563.90"/><line x1="519.25" y1="574.50" x2="519.25" y2="569.20"/><line x1="548.00" y1="574.50" x2="548.00" y2="563.90"/><line x1="576.75" y1="574.50" x2="576.75" y2="569.20"/><line x1="605.50" y1="574.50" x2="605.50" y2="563.90"/><line x1="634.25" y1="574.50" x2="634.25" y2="569.20"/><line x1="663.00" y1="574.50" x2="663.00" y2="563.90"/><line x1="691.75" y1="574.50" x2="691.75" y2="569.20"/><line x1="720.50" y1="574.50" x2="720.50" y2="563.90"/><line x1="749.25" y1="574.50" x2="749.25" y2="569.20"/><line x1="88.00" y1="87.56" x2="93.30" y2="87.56"/><line x1="88.00" y1="157.12" x2="98.60" y2="157.12"/><line x1="88.00" y1="226.69" x2="93.30" y2="226.69"/><line x1="88.00" y1="296.25" x2="98.60" y2="296.25"/><line x1="88.00" y1="365.81" x2="93.30" y2="365.81"/><line x1="88.00" y1="435.38" x2="98.60" y2="435.38"/><line x1="88.00" y1="504.94" x2="93.30" y2="504.94"/>
</g>
<g font-size="26" text-anchor="middle">
<text x="88.00" y="607">-180</text><text x="145.50" y="607">-150</text><text x="203.00" y="607">-120</text><text x="260.50" y="607">-90</text><text x="318.00" y="607">-60</text><text x="375.50" y="607">-30</text><text x="433.00" y="607">0</text><text x="490.50" y="607">30</text><text x="548.00" y="607">60</text><text x="605.50" y="607">90</text><text x="663.00" y="607">120</text><text x="720.50" y="607">150</text><text x="778.00" y="607">180</text>
</g>
<g font-size="26" text-anchor="end">
<text x="75.5" y="25.90">10</text><text x="75.5" y="165.03">0</text><text x="75.5" y="304.15">-10</text><text x="75.5" y="443.27">-20</text><text x="75.5" y="582.40">-30</text>
</g>
<text x="433" y="647.7" font-size="28.8" text-anchor="middle">θ(°)</text>
<text transform="translate(28.2 297.8) rotate(-90)" font-size="28.8" text-anchor="middle">Gain(dBi)</text>
<line x1="97" y1="40.00" x2="163" y2="40.00" stroke="#f03c3c" stroke-width="2.4"/><g fill="#f03c3c"><rect x="126.75" y="36.75" width="6.50" height="6.50"/></g><text x="169.6" y="49.80" font-size="29"><tspan font-style="italic">k</tspan><tspan font-size="19.5" dy="7.3">1</tspan><tspan dy="-7.3">=0.5 mm(Proposed)</tspan></text>
<line x1="97" y1="82.00" x2="163" y2="82.00" stroke="#4b4b4b" stroke-width="2.4"/><g fill="#4b4b4b"><circle cx="130.00" cy="82.00" r="3.75"/></g><text x="169.6" y="91.80" font-size="29"><tspan font-style="italic">k</tspan><tspan font-size="19.5" dy="7.3">1</tspan><tspan dy="-7.3">=3.0 mm</tspan></text>
<line x1="97" y1="124.20" x2="163" y2="124.20" stroke="#1a6fdf" stroke-width="2.4"/><g fill="#1a6fdf"><path d="M130.00 119.60 L134.40 127.50 L125.60 127.50 Z"/></g><text x="169.6" y="134.00" font-size="29"><tspan font-style="italic">k</tspan><tspan font-size="19.5" dy="7.3">1</tspan><tspan dy="-7.3">=5.5 mm</tspan></text>
<line x1="97" y1="166.30" x2="163" y2="166.30" stroke="#2ea562" stroke-width="2.4"/><g fill="#2ea562"><path d="M130.00 161.90 L131.06 165.14 L134.47 165.15 L131.71 167.16 L132.76 170.40 L130.00 168.40 L127.24 170.40 L128.29 167.16 L125.53 165.15 L128.94 165.14 Z"/></g><text x="169.6" y="176.10" font-size="29"><tspan font-style="italic">k</tspan><tspan font-size="19.5" dy="7.3">1</tspan><tspan dy="-7.3">=8.0 mm</tspan></text>
</svg>
</body></html>
